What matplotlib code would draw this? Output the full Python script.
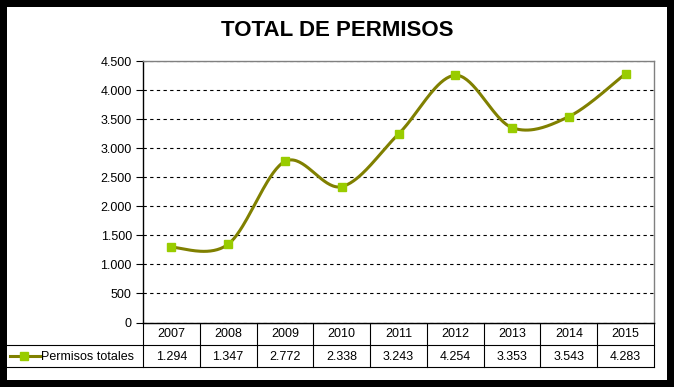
import matplotlib.pyplot as plt
from matplotlib.patches import Rectangle
import numpy as np

plt.rcParams['font.family'] = ['Liberation Sans', 'DejaVu Sans']

# Data
years = ["2007", "2008", "2009", "2010", "2011", "2012", "2013", "2014", "2015"]
permisos = [1294, 1347, 2772, 2338, 3243, 4254, 3353, 3543, 4283]
series_name = "Permisos totales"
yticks = [0, 500, 1000, 1500, 2000, 2500, 3000, 3500, 4000, 4500]

LINE = '#808000'
MARK = '#99CC00'

W, H = 674, 387


def fmt(v):
    return f"{v:,}".replace(",", ".")


def smooth(xs, ys, n=40):
    # Excel-like smoothed line: Catmull-Rom converted to cubic Bezier segments
    p = np.column_stack([xs, ys]).astype(float)
    p = np.vstack([p[0], p, p[-1]])
    out = []
    t = np.linspace(0, 1, n)[:, None]
    for i in range(1, len(p) - 2):
        p0, p1, p2, p3 = p[i - 1], p[i], p[i + 1], p[i + 2]
        c1 = p1 + (p2 - p0) / 6
        c2 = p2 - (p3 - p1) / 6
        seg = ((1 - t) ** 3) * p1 + 3 * ((1 - t) ** 2) * t * c1 + 3 * (1 - t) * t ** 2 * c2 + t ** 3 * p2
        out.append(seg)
    out = np.vstack(out)
    return out[:, 0], out[:, 1]


fig = plt.figure(figsize=(W / 100, H / 100), dpi=100, facecolor='black')

# background / frame layer in pixel coordinates
bg = fig.add_axes([0, 0, 1, 1])
bg.set_xlim(0, W)
bg.set_ylim(H, 0)
bg.axis('off')
bg.add_patch(Rectangle((7, 7), 660, 373, facecolor='white', edgecolor='none'))

bg.text(337, 31, "TOTAL DE PERMISOS", ha='center', va='center',
        fontsize=16, fontweight='bold')

# plot area
left, right, top, bottom = 143, 654, 61, 322.5
ax = fig.add_axes([left / W, 1 - bottom / H, (right - left) / W, (bottom - top) / H])
x = np.arange(len(years))
cx, cy = smooth(x, permisos)
ax.plot(cx, cy, color=LINE, lw=2.2, zorder=3, solid_capstyle='round')
ax.plot(x, permisos, 's', ms=6.3, mfc=MARK, mec=MARK, zorder=4)

ax.set_xlim(-0.5, len(years) - 0.5)
ax.set_ylim(0, 4500)
ax.set_xticks([])
ax.set_yticks(yticks)
ax.set_yticklabels([fmt(v) for v in yticks], fontsize=9)
ax.tick_params(axis='y', direction='out', length=5, width=0.8, colors='black', pad=3)
ax.yaxis.grid(True, linestyle=(0, (3, 3)), color='black', lw=0.8)
ax.set_axisbelow(True)
for s in ['top', 'right']:
    ax.spines[s].set_color('#808080')
    ax.spines[s].set_linewidth(1)
for s in ['left', 'bottom']:
    ax.spines[s].set_color('black')
    ax.spines[s].set_linewidth(1)

# data table below the plot
r1, r2 = 345, 367
colw = (right - left) / len(years)
kw = dict(color='black', lw=0.8)
bg.plot([left, right], [bottom, bottom], **kw)
bg.plot([7, right], [r1, r1], **kw)
bg.plot([7, right], [r2, r2], **kw)
for k in range(len(years) + 1):
    xx = left + k * colw
    bg.plot([xx, xx], [bottom, r2], **kw)
for i, (yr, v) in enumerate(zip(years, permisos)):
    xc = left + (i + 0.5) * colw
    bg.text(xc, (bottom + r1) / 2 + 0.5, yr, ha='center', va='center', fontsize=9)
    bg.text(xc, (r1 + r2) / 2 + 0.5, fmt(v), ha='center', va='center', fontsize=9)

# legend key in the table
ym = (r1 + r2) / 2
bg.plot([10, 40], [ym, ym], color=LINE, lw=2.2)
bg.plot([24], [ym], 's', ms=6.3, mfc=MARK, mec=MARK)
bg.text(41, ym + 0.5, series_name, ha='left', va='center', fontsize=9)

fig.savefig('out.png', dpi=100, facecolor='black')
